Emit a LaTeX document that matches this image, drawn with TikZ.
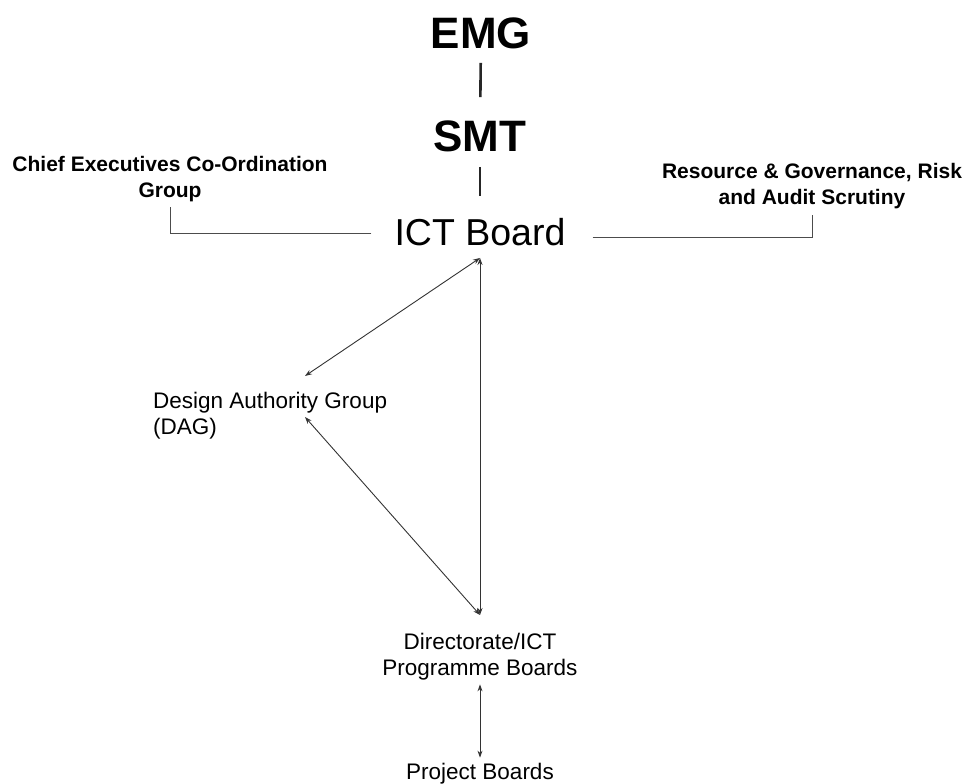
\documentclass[tikz,border=0pt]{standalone}
\usepackage{fontspec}
\setmainfont{Liberation Sans}
\usetikzlibrary{arrows.meta}

\begin{document}
\begin{tikzpicture}[x=1pt,y=-1pt,
	top/.style={font=\fontsize{44}{50}\selectfont\bfseries, inner sep=0pt},
	board/.style={font=\fontsize{37.5}{42}\selectfont, inner sep=0pt},
	side/.style={font=\fontsize{21}{26}\selectfont\bfseries, inner sep=0pt, align=center},
	group/.style={font=\fontsize{22.5}{26}\selectfont, inner sep=0pt},
	rule/.style={line width=2.6pt, black!85},
	link/.style={line width=0.9pt, black!70},
	flow/.style={line width=0.9pt, black!80, {Stealth[length=7pt,width=5pt]}-{Stealth[length=7pt,width=5pt]}}]
	\useasboundingbox (0,0) rectangle (966,784);
	% top of the chain
	\node[top] (emg) at (481,33) {EMG};
	\node[top] (smt) at (480,136) {SMT};
	\node[board] (ict) at (480,232) {ICT Board};
	\node[side, anchor=north] (ceo) at (170,156) {Chief Executives Co-Ordination\\Group};
	\node[side, anchor=north] (rgr) at (812,163) {Resource \& Governance, Risk\\and Audit Scrutiny};
	% groups and boards below
	\node[group, align=left, anchor=north west] (dag) at (153,392) {Design Authority Group\\(DAG)};
	\node[group, align=center, anchor=north] (dir) at (480,633) {Directorate/ICT\\Programme Boards};
	\node[group, anchor=south] (proj) at (480,784) {Project Boards};

	\draw[rule, shorten <=14pt, shorten >=23pt] (emg) -- (smt);
	\draw[rule, shorten <=15pt, shorten >=22pt] (smt) -- (ict);
	\draw[link] ([xshift=-23pt,yshift=-1pt]ict.west) -| ([yshift=-5pt]ceo.south);
	\draw[link] ([xshift=27pt,yshift=-5pt]ict.east) -| ([yshift=-6pt]rgr.south);

	\coordinate (hub) at ([yshift=-12pt]ict.south);
	\coordinate (dagtop) at ([xshift=152pt,yshift=16pt]dag.north west);
	\coordinate (dagfoot) at ([xshift=152pt,yshift=-25pt]dag.north west);
	\coordinate (dirtop) at ([yshift=18pt]dir.north);
	\coordinate (dirfoot) at ([yshift=-4pt]dir.south);
	\coordinate (projtop) at ([yshift=5pt]proj.north);
	\draw[flow] (hub) -- (dagtop);
	\draw[flow] (hub) -- (dirtop);
	\draw[flow] (dagfoot) -- (dirtop);
	\draw[flow] (dirfoot) -- (projtop);
\end{tikzpicture}
\end{document}
